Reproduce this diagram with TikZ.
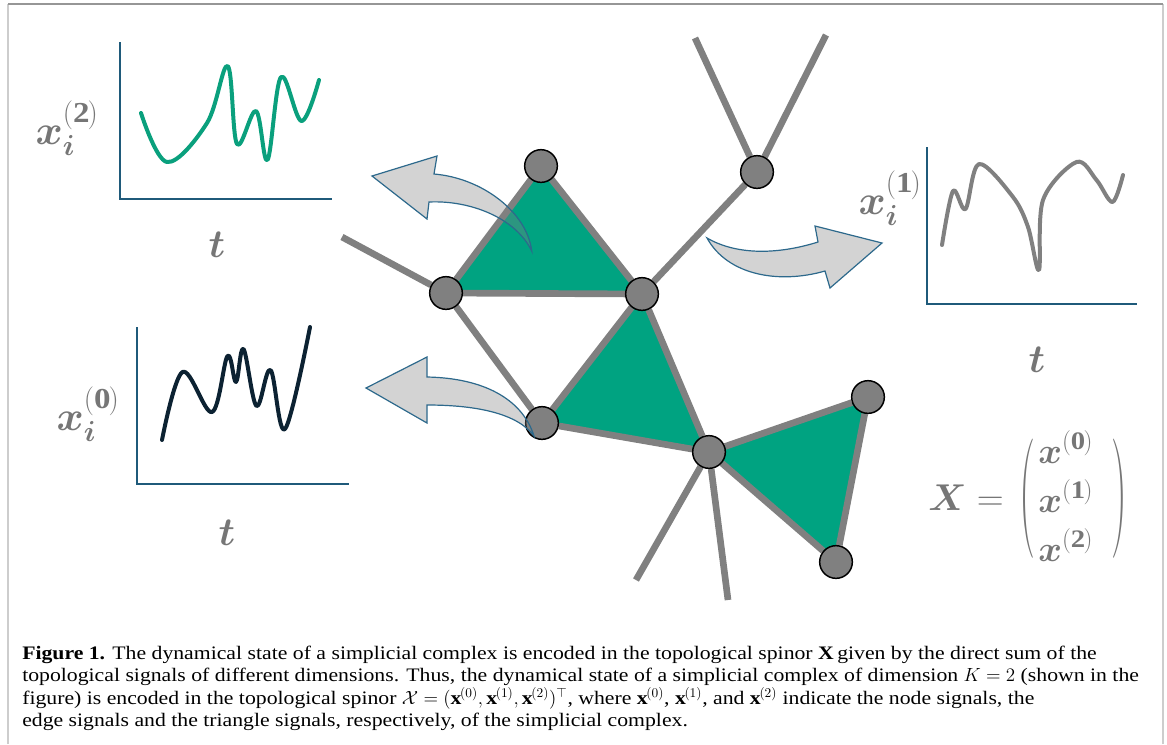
\RequirePackage{fix-cm}
\documentclass[tikz,border=0pt]{standalone}
\usepackage{amsmath,bm}
\usepackage{fontspec}
\setmainfont{Liberation Serif}[FakeStretch=1.14]
\definecolor{triGreen}{RGB}{0,163,129}
\definecolor{netGray}{RGB}{128,128,128}
\definecolor{labGray}{RGB}{118,118,118}
\definecolor{axisBlue}{RGB}{31,90,122}
\definecolor{arrStroke}{RGB}{45,105,140}
\definecolor{curveNavy}{RGB}{12,34,50}
\definecolor{curveGreen}{RGB}{10,160,125}
\definecolor{frameDark}{RGB}{150,150,150}
\definecolor{frameLight}{RGB}{205,205,205}
\pgfdeclarelayer{bg}
\pgfsetlayers{bg,main}
\tikzset{
  vtx/.style={circle, draw=black, line width=1.1pt, fill=netGray, minimum size=24.5pt, inner sep=0pt},
  sedge/.style={draw=netGray, line width=5pt},
  tri/.style={fill=triGreen},
  axisline/.style={draw=axisBlue, line width=1.6pt},
  sig/.style={line width=3pt, line cap=round, line join=round},
  lab/.style={text=labGray, inner sep=0pt, font=\fontsize{31}{36}\selectfont},
  tlab/.style={text=labGray, inner sep=0pt, font=\fontsize{30}{36}\selectfont},
  matlab/.style={text=labGray, inner sep=0pt, font=\fontsize{28}{34}\selectfont},
  rowlab/.style={text=labGray, inner sep=0pt, anchor=base west, font=\fontsize{27}{32}\selectfont},
  blockarrow/.style={draw=arrStroke, line width=0.9pt, fill=netGray, fill opacity=0.35, line join=miter},
  capline/.style={anchor=base west, inner sep=0pt, font=\fontsize{14.3}{17}\selectfont}
}
\begin{document}
\begin{tikzpicture}[x=0.75pt,y=-0.75pt]
\useasboundingbox (0,0) rectangle (1167,744);
% frame
\draw[frameLight, line width=1.8pt] (8,744) -- (8,4);
\draw[frameLight, line width=1.8pt] (1163,744) -- (1163,4);
\draw[frameDark, line width=1.2pt] (8,4) -- (1163,4);

% vertices
\node[vtx] (A) at (541,166) {};
\node[vtx] (B) at (446,293) {};
\node[vtx] (C) at (642,294) {};
\node[vtx] (D) at (542,423) {};
\node[vtx] (E) at (709,452) {};
\node[vtx] (F) at (757,172) {};
\node[vtx] (G) at (868,397) {};
\node[vtx] (H) at (836,562) {};
\coordinate (fB) at (342,237);
\coordinate (fF1) at (695,38);
\coordinate (fF2) at (826,35);
\coordinate (fE1) at (636,580);
\coordinate (fE2) at (728,600);

\begin{pgfonlayer}{bg}
\fill[tri] (A.center) -- (B.center) -- (C.center) -- cycle;
\fill[tri] (C.center) -- (D.center) -- (E.center) -- cycle;
\fill[tri] (E.center) -- (G.center) -- (H.center) -- cycle;
\draw[sedge] (A) -- (B);
\draw[sedge] (A) -- (C);
\draw[sedge] (B) -- (C);
\draw[sedge] (B) -- (D);
\draw[sedge] (C) -- (D);
\draw[sedge] (C) -- (E);
\draw[sedge] (D) -- (E);
\draw[sedge] (E) -- (G);
\draw[sedge] (G) -- (H);
\draw[sedge] (H) -- (E);
\draw[sedge] (C) -- (F);
\draw[sedge] (F) -- (fF1);
\draw[sedge] (F) -- (fF2);
\draw[sedge] (B) -- (fB);
\draw[sedge] (E) -- (fE1);
\draw[sedge] (E) -- (fE2);
\end{pgfonlayer}

% plot x^(2) top-left
\coordinate (o2) at (120,199);
\draw[axisline] (120,42) -- (o2) -- (332,199);
\draw[sig, curveGreen] plot[smooth, tension=0.6] coordinates {(141,113) (167,162) (207,123) (227.7,66) (237,144) (256,111) (267.5,160) (281,77) (301.5,121) (319,80)};
\node[lab] (l2) at (67,128) {$\boldsymbol{x}_{\boldsymbol{i}}^{\mathbf{(2)}}$};
\node[tlab] (t2) at (217,245) {$\boldsymbol{t}$};

% plot x^(1) right
\coordinate (o1) at (927,304);
\draw[axisline] (927,147) -- (o1) -- (1137,304);
\draw[sig, netGray] plot[smooth, tension=0.55] coordinates {(942,245) (953,191) (965.5,209) (979,164) (1013,197) (1028,227) (1039,270) (1043,200) (1076.5,162) (1096.5,180) (1112.5,202) (1123,175)};
\node[lab] (l1) at (890,198) {$\boldsymbol{x}_{\boldsymbol{i}}^{\mathbf{(1)}}$};
\node[tlab] (t1) at (1037,360) {$\boldsymbol{t}$};

% plot x^(0) bottom-left
\coordinate (o0) at (137,484);
\draw[axisline] (137,327) -- (o0) -- (349,484);
\draw[sig, curveNavy] plot[smooth, tension=0.6] coordinates {(162,440) (182.5,372) (212,412) (227.5,356) (236,382) (243.5,349) (256.5,406) (270.5,370) (285,429) (310,327)};
\node[lab] (l0) at (88,414) {$\boldsymbol{x}_{\boldsymbol{i}}^{\mathbf{(0)}}$};
\node[tlab] (t0) at (227,533) {$\boldsymbol{t}$};

% spinor X = ( x0 ; x1 ; x2 )
\node[matlab, anchor=base west] (Xeq) at (928,510) {$\boldsymbol{X}=$};
\node[matlab] (lpar) at (1027,499) {\scalebox{1.2}[3.2]{$($}};
\node[rowlab] (r0) at (1038,463) {$\boldsymbol{x}^{\mathbf{(0)}}$};
\node[rowlab] (r1) at (1038,512) {$\boldsymbol{x}^{\mathbf{(1)}}$};
\node[rowlab] (r2) at (1038,561) {$\boldsymbol{x}^{\mathbf{(2)}}$};
\node[matlab] (rpar) at (1119,499) {\scalebox{1.2}[3.2]{$)$}};

% block arrows
\path[blockarrow] (531.7,251) .. controls (527,212) and (482,178) .. (434,174) -- (437,156) -- (372,176) -- (427,219) -- (429,202) .. controls (470,200) and (516,218) .. cycle;
\path[blockarrow] (707,238) .. controls (738,256) and (780,254) .. (818,242) -- (815,226) -- (882,243) -- (830,288) -- (825,271) .. controls (780,284) and (728,276) .. cycle;
\path[blockarrow] (534,436) .. controls (522,398) and (482,378) .. (427,377) -- (427,357) -- (366,388) -- (427,423) -- (427,405) .. controls (478,405) and (518,414) .. cycle;

% caption
\node[capline] (cap1) at (22,659) {\textbf{Figure 1.} The dynamical state of a simplicial complex is encoded in the topological spinor $\mathbf{X}$ given by the direct sum of the};
\node[capline] (cap2) at (22,681.5) {topological signals of different dimensions. Thus, the dynamical state of a simplicial complex of dimension $K=2$ (shown in the};
\node[capline] (cap3) at (22,704) {figure) is encoded in the topological spinor $\mathcal{X}=(\mathbf{x}^{(0)},\mathbf{x}^{(1)},\mathbf{x}^{(2)})^{\top}$, where $\mathbf{x}^{(0)}$, $\mathbf{x}^{(1)}$, and $\mathbf{x}^{(2)}$ indicate the node signals, the};
\node[capline] (cap4) at (22,726.5) {edge signals and the triangle signals, respectively, of the simplicial complex.};
\end{tikzpicture}
\end{document}
